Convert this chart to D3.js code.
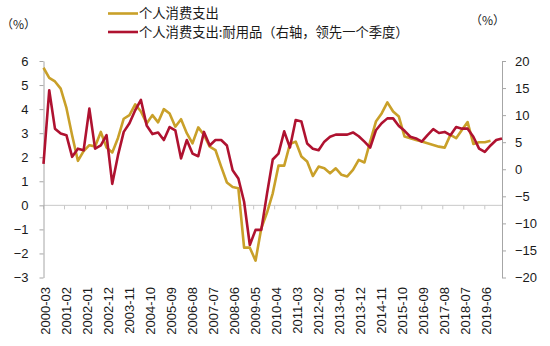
<!DOCTYPE html>
<html>
<head>
<meta charset="utf-8">
<script src="https://cdn.jsdelivr.net/npm/d3@7"></script>
<style>
  html, body { margin: 0; padding: 0; background: #fff; }
  svg { display: block; }
  .tick text { font-family: "Liberation Sans", Arial, sans-serif; font-size: 13px; fill: #1a1a1a; }
  .cjk { font-family: "Noto Sans CJK SC", sans-serif; fill: #1a1a1a; }
</style>
</head>
<body>
<svg id="chart" width="550" height="346"></svg>
<script>
// Series names
const seriesNames = ["个人消费支出", "个人消费支出:耐用品（右轴，领先一个季度）"];

// First quarter-end month of both series
const startYear = 2000, startMonth = 3;

// 个人消费支出, YoY %, quarterly (left axis)
const pce = [
  5.72, 5.30, 5.15, 4.85, 4.05, 2.90, 1.85, 2.25, 2.50, 2.45,
  3.05, 2.40, 2.20, 2.80, 3.60, 3.75, 4.20, 3.90, 3.40, 3.75,
  3.45, 4.00, 3.82, 3.27, 3.58, 3.00, 2.58, 3.24, 2.93, 2.44,
  2.30, 1.61, 0.95, 0.76, 0.71, -1.76, -1.76, -2.30, -0.95, -0.30,
  0.50, 1.65, 1.65, 2.55, 2.65, 2.03, 1.82, 1.22, 1.61, 1.54,
  1.33, 1.54, 1.27, 1.20, 1.47, 1.89, 1.78, 2.65, 3.48, 3.82,
  4.28, 3.90, 3.69, 2.86, 2.79, 2.72, 2.65, 2.58, 2.51, 2.44,
  2.40, 2.93, 2.79, 3.13, 3.46, 2.55, 2.62, 2.62, 2.68
];

// 个人消费支出:耐用品, YoY %, quarterly, shifted one quarter ahead (right axis)
const durables = [
  1.0, 14.6, 7.5, 6.6, 6.3, 2.3, 3.8, 3.5, 11.2, 3.8,
  4.4, 6.3, -2.7, 2.6, 6.9, 8.5, 10.9, 12.8, 8.1, 6.5,
  6.8, 5.4, 7.8, 7.2, 2.0, 5.4, 2.9, 2.4, 6.9, 4.4,
  5.4, 5.4, 4.4, -0.2, -1.7, -6.0, -14.0, -11.2, -11.2, -4.5,
  1.8, 2.9, 7.0, 4.0, 9.1, 8.8, 4.75, 3.8, 3.5, 5.1,
  6.0, 6.4, 6.4, 6.4, 6.8, 6.1, 5.1, 4.0, 7.2, 8.5,
  9.4, 9.4, 8.0, 7.1, 6.0, 5.7, 5.1, 6.3, 7.4, 6.7,
  6.9, 6.3, 7.8, 7.5, 7.5, 6.0, 3.8, 3.2, 4.4, 5.4,
  5.7
];

// Category axis labels (every 11 months)
const xTickLabels = [
  "2000-03", "2001-02", "2002-01", "2002-12", "2003-11", "2004-10",
  "2005-09", "2006-08", "2007-07", "2008-06", "2009-05", "2010-04",
  "2011-03", "2012-02", "2013-01", "2013-12", "2014-11", "2015-10",
  "2016-09", "2017-08", "2018-07", "2019-06"
];
const leftTicks = [-3, -2, -1, 0, 1, 2, 3, 4, 5, 6];
const rightTicks = [-20, -15, -10, -5, 0, 5, 10, 15, 20];

const colors = ["#C9A029", "#AF1230"];
const axisGrey = "#a6a6a6";

// Month offset from the first month, e.g. "2004-10" -> 55
const monthIndex = s => {
  const [y, m] = s.split("-").map(Number);
  return (y - startYear) * 12 + (m - startMonth);
};

const svg = d3.select("#chart");
const plot = { left: 43.5, right: 502, top: 61, bottom: 277.5 };

const x = d3.scaleLinear().domain([0, 240]).range([plot.left, plot.right]);
const yL = d3.scaleLinear().domain([-3, 6]).range([plot.bottom, plot.top]);
const yR = d3.scaleLinear().domain([-20, 20]).range([plot.bottom, plot.top]);

// Zero line with category ticks
svg.append("line")
  .attr("x1", plot.left).attr("x2", plot.right)
  .attr("y1", yL(0)).attr("y2", yL(0))
  .attr("stroke", "#c8c8c8").attr("stroke-width", 1);
svg.append("g")
  .selectAll("line")
  .data(xTickLabels)
  .join("line")
  .attr("x1", d => x(monthIndex(d))).attr("x2", d => x(monthIndex(d)))
  .attr("y1", yL(0)).attr("y2", yL(0) + 4)
  .attr("stroke", "#c8c8c8");

// Rotated category labels along the bottom
svg.append("g")
  .selectAll("text")
  .data(xTickLabels)
  .join("text")
  .attr("transform", d => `translate(${x(monthIndex(d)) + 2},287) rotate(-90)`)
  .attr("text-anchor", "end")
  .attr("dy", "0.35em")
  .style("font-family", "'Liberation Sans', Arial, sans-serif")
  .style("font-size", "13px")
  .style("fill", "#1a1a1a")
  .text(d => d);

// Left axis
const gL = svg.append("g")
  .attr("transform", `translate(${plot.left},0)`)
  .call(d3.axisLeft(yL).tickValues(leftTicks).tickSize(4).tickPadding(11).tickSizeOuter(0));
gL.select(".domain").attr("stroke", axisGrey);
gL.selectAll(".tick line").attr("stroke", axisGrey);

// Right axis
const gR = svg.append("g")
  .attr("transform", `translate(${plot.right},0)`)
  .call(d3.axisRight(yR).tickValues(rightTicks).tickSize(4).tickPadding(9).tickSizeOuter(0));
gR.select(".domain").attr("stroke", axisGrey);
gR.selectAll(".tick line").attr("stroke", axisGrey);

// Lines
const lineL = d3.line().x((d, i) => x(i * 3)).y(d => yL(d));
const lineR = d3.line().x((d, i) => x(i * 3)).y(d => yR(d));

svg.append("path").datum(pce)
  .attr("d", lineL).attr("fill", "none")
  .attr("stroke", colors[0]).attr("stroke-width", 2.6).attr("stroke-linejoin", "round");
svg.append("path").datum(durables)
  .attr("d", lineR).attr("fill", "none")
  .attr("stroke", colors[1]).attr("stroke-width", 2.6).attr("stroke-linejoin", "round");

// Unit labels
svg.append("text").attr("class", "cjk").attr("x", 1).attr("y", 29)
  .style("font-size", "12px").text("（%）");
svg.append("text").attr("class", "cjk").attr("x", 470).attr("y", 25)
  .style("font-size", "12px").text("（%）");

// Legend
const legend = svg.append("g");
seriesNames.forEach((name, i) => {
  const cy = 13.5 + i * 18.5;
  legend.append("line")
    .attr("x1", 108).attr("x2", 138).attr("y1", cy).attr("y2", cy)
    .attr("stroke", colors[i]).attr("stroke-width", 2.6);
  legend.append("text").attr("class", "cjk")
    .attr("x", 139).attr("y", cy).attr("dy", "0.36em")
    .style("font-size", "13.3px")
    .text(name);
});
</script>
</body>
</html>
